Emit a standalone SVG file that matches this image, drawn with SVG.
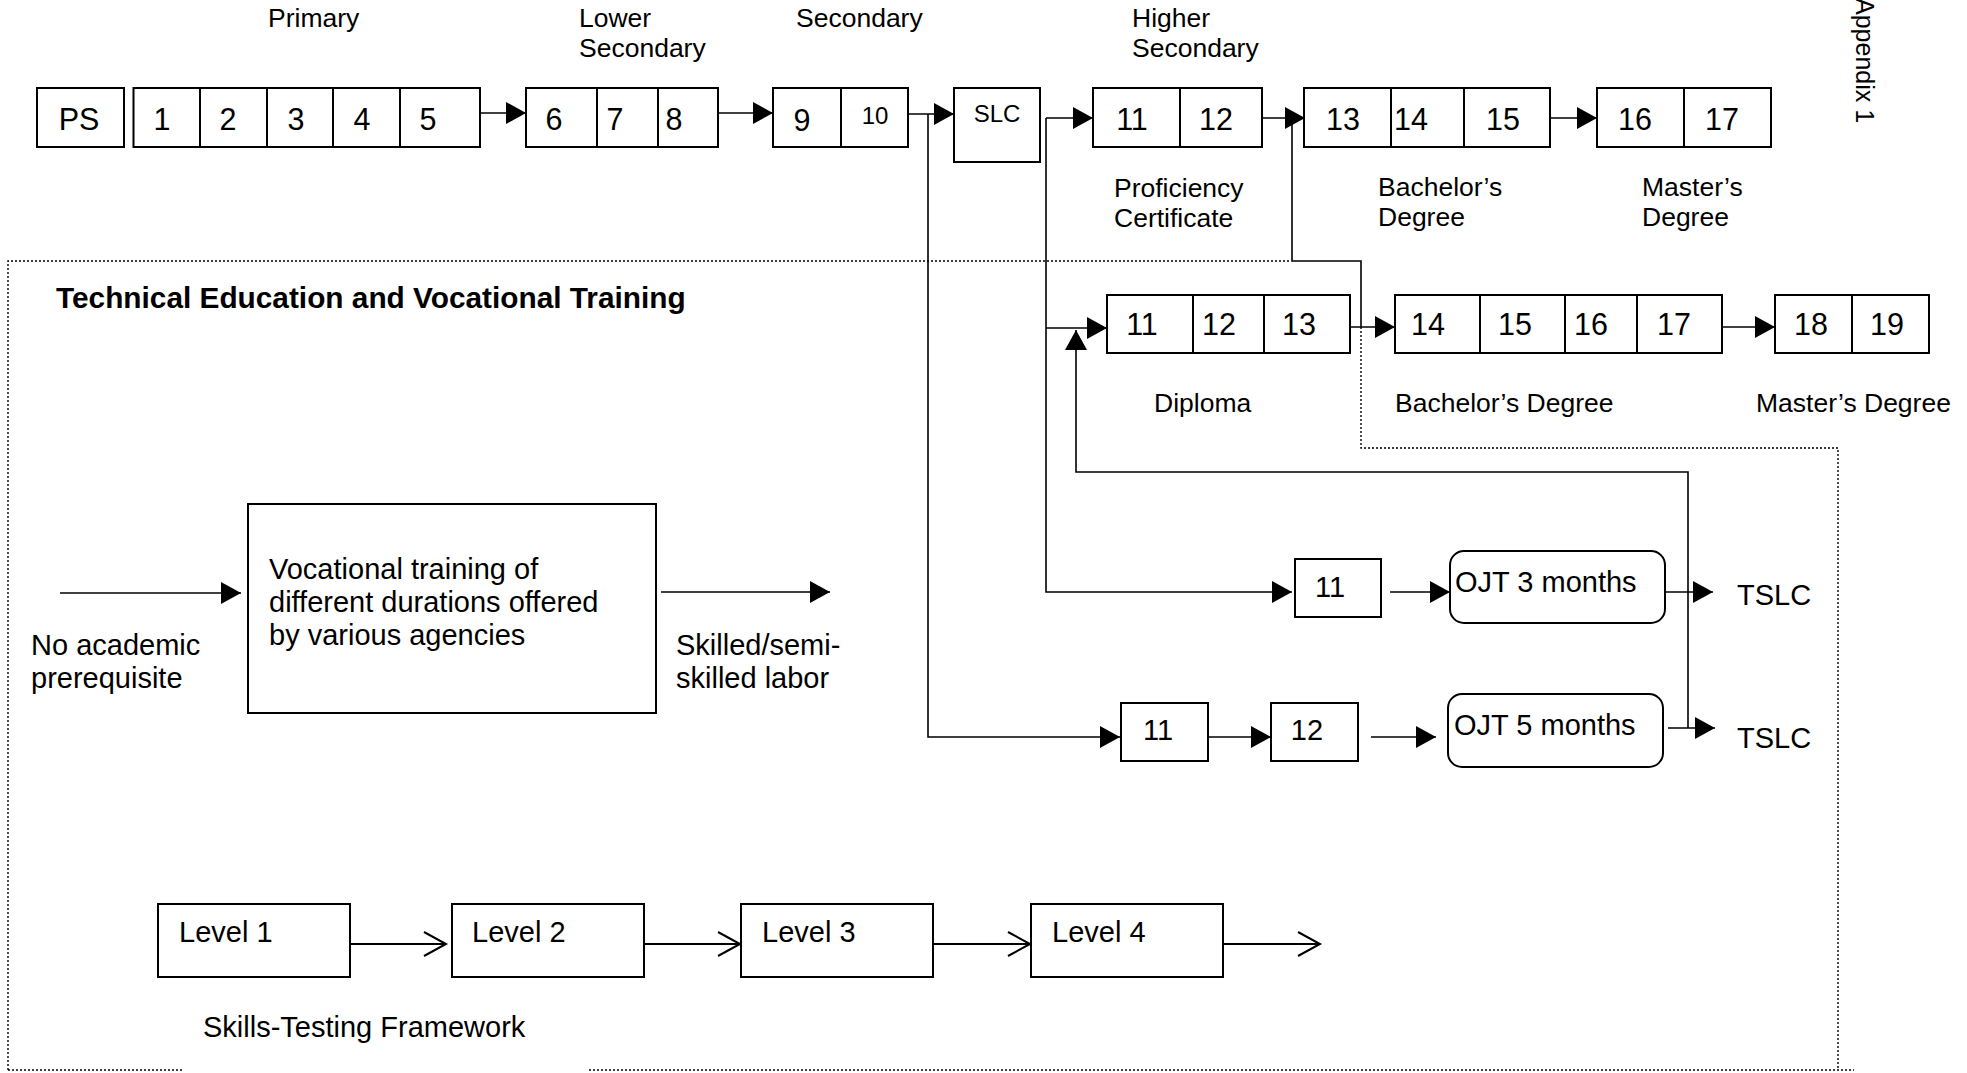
<svg xmlns="http://www.w3.org/2000/svg" width="1967" height="1073" viewBox="0 0 1967 1073">
  <style>
    text { font-family: "Liberation Sans", Arial, sans-serif; fill: #000; }
    .cell { fill: #fff; stroke: #000; stroke-width: 2; }
    .round { fill: #fff; stroke: #000; stroke-width: 2; }
    .num { font-size: 30.5px; text-anchor: middle; }
    .small { font-size: 24px; text-anchor: middle; }
    .lbl { font-size: 26.5px; }
    .tv { font-size: 29px; }
    .title { font-size: 29.8px; font-weight: bold; }
    .wire { fill: none; stroke: #000; stroke-width: 1.6; }
    .wire2 { fill: none; stroke: #000; stroke-width: 2.2; }
    .dots { fill: none; stroke: #000; stroke-width: 1.4; stroke-dasharray: 2 2; }
  </style>
  <defs>
    <marker id="ah" markerWidth="20" markerHeight="22" refX="20" refY="11" orient="auto" markerUnits="userSpaceOnUse">
      <path d="M0,0 L20,11 L0,22 z" fill="#000"/>
    </marker>
    <marker id="oh" markerWidth="26" markerHeight="28" refX="23" refY="13" orient="auto" markerUnits="userSpaceOnUse" overflow="visible">
      <path d="M1,1 L23,13 L1,25" fill="none" stroke="#000" stroke-width="2"/>
    </marker>
  </defs>
  <rect width="1967" height="1073" fill="#fff"/>

  <!-- level captions -->
  <g id="captions" class="lbl">
    <text x="268" y="27">Primary</text>
    <text x="579" y="27">Lower</text>
    <text x="579" y="57">Secondary</text>
    <text x="796" y="27">Secondary</text>
    <text x="1132" y="27">Higher</text>
    <text x="1132" y="57">Secondary</text>
    <text x="1114" y="197">Proficiency</text>
    <text x="1114" y="227">Certificate</text>
    <text x="1378" y="196">Bachelor’s</text>
    <text x="1378" y="226">Degree</text>
    <text x="1642" y="196">Master’s</text>
    <text x="1642" y="226">Degree</text>
    <text x="1154" y="412">Diploma</text>
    <text x="1395" y="412">Bachelor’s Degree</text>
    <text x="1756" y="412">Master’s Degree</text>
  </g>
  <text id="appendix" transform="translate(1856,-2) rotate(90)" style="font-size:25px">Appendix 1</text>

  <!-- section border (dotted) -->
  <g id="border">
    <path class="dots" d="M8,1070 V261 H1290"/>
    <path class="dots" d="M1361,327 V448 H1838 V1070"/>
    <path class="dots" d="M8,1070 H183 M589,1070 H1854"/>
  </g>

  <!-- connectors -->
  <g id="connectors">
    <path class="wire" d="M480,113 H526" marker-end="url(#ah)"/>
    <path class="wire" d="M718,113 H773" marker-end="url(#ah)"/>
    <path class="wire" d="M908,114 H954" marker-end="url(#ah)"/>
    <path class="wire" d="M928,114 V737 H1120" marker-end="url(#ah)"/>
    <path class="wire" d="M1046,118 H1093" marker-end="url(#ah)"/>
    <path class="wire" d="M1046,118 V592 H1292" marker-end="url(#ah)"/>
    <path class="wire" d="M1046,328 H1107" marker-end="url(#ah)"/>
    <path class="wire" d="M1262,118 H1305" marker-end="url(#ah)"/>
    <path class="wire" d="M1292,118 V261 H1361 V327"/>
    <path class="wire" d="M1350,327 H1395" marker-end="url(#ah)"/>
    <path class="wire" d="M1550,118 H1597" marker-end="url(#ah)"/>
    <path class="wire" d="M1722,327 H1775" marker-end="url(#ah)"/>
    <path class="wire" d="M1688,728 V472 H1076 V330" marker-end="url(#ah)"/>
    <path class="wire" d="M1390,592 H1450" marker-end="url(#ah)"/>
    <path class="wire" d="M1665,592 H1713" marker-end="url(#ah)"/>
    <path class="wire" d="M1208,737 H1271" marker-end="url(#ah)"/>
    <path class="wire" d="M1371,737 H1436" marker-end="url(#ah)"/>
    <path class="wire" d="M1668,728 H1715" marker-end="url(#ah)"/>
    <path class="wire" d="M60,593 H241" marker-end="url(#ah)"/>
    <path class="wire" d="M661,592 H830" marker-end="url(#ah)"/>
    <path class="wire2" d="M350,944 H446" marker-end="url(#oh)"/>
    <path class="wire2" d="M644,944 H740" marker-end="url(#oh)"/>
    <path class="wire2" d="M933,944 H1030" marker-end="url(#oh)"/>
    <path class="wire2" d="M1223,944 H1320" marker-end="url(#oh)"/>
  </g>

  <!-- school grades -->
  <g id="ps">
    <rect class="cell" x="37" y="88" width="87" height="59"/>
    <text class="num" x="79" y="130">PS</text>
  </g>
  <g id="primary">
    <rect class="cell" x="133.5" y="88" width="66.5" height="59"/>
    <rect class="cell" x="200" y="88" width="67" height="59"/>
    <rect class="cell" x="267" y="88" width="66" height="59"/>
    <rect class="cell" x="333" y="88" width="67" height="59"/>
    <rect class="cell" x="400" y="88" width="80" height="59"/>
    <text class="num" x="162" y="130">1</text>
    <text class="num" x="228" y="130">2</text>
    <text class="num" x="296" y="130">3</text>
    <text class="num" x="362" y="130">4</text>
    <text class="num" x="428" y="130">5</text>
  </g>
  <g id="lower-secondary">
    <rect class="cell" x="526" y="88" width="71" height="59"/>
    <rect class="cell" x="597" y="88" width="61" height="59"/>
    <rect class="cell" x="658" y="88" width="60" height="59"/>
    <text class="num" x="554" y="130">6</text>
    <text class="num" x="615" y="130">7</text>
    <text class="num" x="674" y="130">8</text>
  </g>
  <g id="secondary">
    <rect class="cell" x="773" y="88" width="68" height="59"/>
    <rect class="cell" x="841" y="88" width="67" height="59"/>
    <text class="num" x="802" y="131">9</text>
    <text class="small" x="875" y="124">10</text>
  </g>
  <g id="slc">
    <rect class="cell" x="954" y="88" width="86" height="74"/>
    <text class="small" x="997" y="122">SLC</text>
  </g>
  <g id="higher-secondary">
    <rect class="cell" x="1093" y="88" width="87" height="59"/>
    <rect class="cell" x="1180" y="88" width="82" height="59"/>
    <text class="num" x="1132" y="130">11</text>
    <text class="num" x="1216" y="130">12</text>
  </g>
  <g id="bachelor">
    <rect class="cell" x="1304" y="88" width="87" height="59"/>
    <rect class="cell" x="1391" y="88" width="73" height="59"/>
    <rect class="cell" x="1464" y="88" width="86" height="59"/>
    <text class="num" x="1343" y="130">13</text>
    <text class="num" x="1411" y="130">14</text>
    <text class="num" x="1503" y="130">15</text>
  </g>
  <g id="master">
    <rect class="cell" x="1597" y="88" width="87" height="59"/>
    <rect class="cell" x="1684" y="88" width="87" height="59"/>
    <text class="num" x="1635" y="130">16</text>
    <text class="num" x="1722" y="130">17</text>
  </g>

  <!-- technical stream -->
  <text id="tevt-title" class="title" x="56" y="308">Technical Education and Vocational Training</text>
  <g id="diploma">
    <rect class="cell" x="1107" y="295" width="86" height="58"/>
    <rect class="cell" x="1193" y="295" width="71" height="58"/>
    <rect class="cell" x="1264" y="295" width="86" height="58"/>
    <text class="num" x="1142" y="335">11</text>
    <text class="num" x="1219" y="335">12</text>
    <text class="num" x="1299" y="335">13</text>
  </g>
  <g id="tech-bachelor">
    <rect class="cell" x="1395" y="295" width="85" height="58"/>
    <rect class="cell" x="1480" y="295" width="85" height="58"/>
    <rect class="cell" x="1565" y="295" width="72" height="58"/>
    <rect class="cell" x="1637" y="295" width="85" height="58"/>
    <text class="num" x="1428" y="335">14</text>
    <text class="num" x="1515" y="335">15</text>
    <text class="num" x="1591" y="335">16</text>
    <text class="num" x="1674" y="335">17</text>
  </g>
  <g id="tech-master">
    <rect class="cell" x="1775" y="295" width="77" height="58"/>
    <rect class="cell" x="1852" y="295" width="77" height="58"/>
    <text class="num" x="1811" y="335">18</text>
    <text class="num" x="1887" y="335">19</text>
  </g>

  <g id="grade11-short">
    <rect class="cell" x="1295" y="559" width="86" height="58"/>
    <text class="tv" x="1330" y="597" text-anchor="middle">11</text>
  </g>
  <g id="ojt3">
    <rect class="round" x="1450" y="551" width="215" height="72" rx="14"/>
    <text class="tv" x="1455" y="592">OJT 3 months</text>
  </g>
  <text id="tslc1" class="tv" x="1737" y="605">TSLC</text>

  <g id="grade11-long">
    <rect class="cell" x="1121" y="703" width="87" height="58"/>
    <text class="tv" x="1158" y="740" text-anchor="middle">11</text>
  </g>
  <g id="grade12-long">
    <rect class="cell" x="1271" y="703" width="87" height="58"/>
    <text class="tv" x="1307" y="740" text-anchor="middle">12</text>
  </g>
  <g id="ojt5">
    <rect class="round" x="1448" y="694" width="215" height="73" rx="14"/>
    <text class="tv" x="1454" y="735">OJT 5 months</text>
  </g>
  <text id="tslc2" class="tv" x="1737" y="748">TSLC</text>

  <g id="vocational">
    <rect class="cell" x="248" y="504" width="408" height="209"/>
    <text class="tv" x="269" y="579">Vocational training of</text>
    <text class="tv" x="269" y="612">different durations offered</text>
    <text class="tv" x="269" y="645">by various agencies</text>
  </g>
  <g id="no-prereq" class="tv">
    <text x="31" y="655">No academic</text>
    <text x="31" y="688">prerequisite</text>
  </g>
  <g id="skilled-labor" class="tv">
    <text x="676" y="655">Skilled/semi-</text>
    <text x="676" y="688">skilled labor</text>
  </g>

  <!-- skills testing levels -->
  <g id="level1">
    <rect class="cell" x="158" y="904" width="192" height="73"/>
    <text class="tv" x="179" y="942">Level 1</text>
  </g>
  <g id="level2">
    <rect class="cell" x="452" y="904" width="192" height="73"/>
    <text class="tv" x="472" y="942">Level 2</text>
  </g>
  <g id="level3">
    <rect class="cell" x="741" y="904" width="192" height="73"/>
    <text class="tv" x="762" y="942">Level 3</text>
  </g>
  <g id="level4">
    <rect class="cell" x="1031" y="904" width="192" height="73"/>
    <text class="tv" x="1052" y="942">Level 4</text>
  </g>
  <text id="stf" class="tv" x="203" y="1037">Skills-Testing Framework</text>
</svg>
